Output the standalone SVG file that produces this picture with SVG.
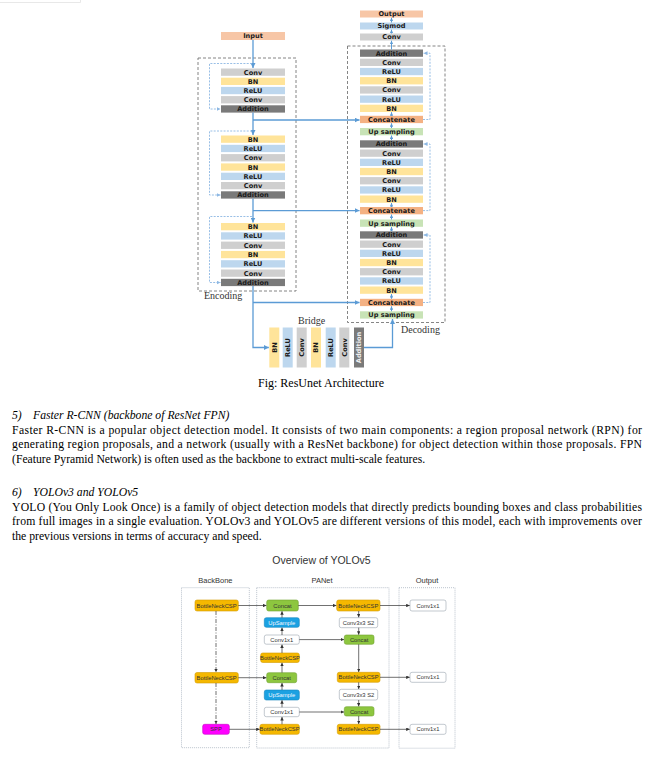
<svg xmlns="http://www.w3.org/2000/svg" width="657" height="760" viewBox="0 0 657 760">
<style>
.b{stroke:none}
.conv{fill:#cfcfcf}
.bn{fill:#ffe49a}
.relu{fill:#bdd7ee}
.add{fill:#7a7a7a}
.cat{fill:#f4b183}
.inp{fill:#f7c6a6}
.up{fill:#c8e3b6}
.t{font-family:"DejaVu Sans",Verdana,sans-serif;font-weight:bold;font-size:6.6px;fill:#1a1a1a;text-anchor:middle}
.lbl{font-family:"Liberation Serif","Times New Roman",serif;font-size:10px;fill:#333}
.main{fill:none;stroke:#5b9bd5;stroke-width:1.3}
.small{fill:none;stroke:#5b9bd5;stroke-width:1}
.loop{fill:none;stroke:#8db8e3;stroke-width:0.9;stroke-dasharray:2,1.3}
.gbox{fill:none;stroke:#777;stroke-width:0.9;stroke-dasharray:3,2}
.body{font-family:"Liberation Serif","Times New Roman",serif;font-size:11.7px;fill:#000}
.cap{font-family:"Liberation Serif","Times New Roman",serif;font-size:12px;fill:#000}
.it{font-style:italic}
.y{font-family:"Liberation Sans",Arial,sans-serif;font-size:5.8px;fill:#333;text-anchor:middle}
.ybox{fill:none;stroke:#aab4c0;stroke-width:0.8;stroke-dasharray:1,1}
.gold{fill:#f5b800;stroke:#d39c00;stroke-width:0.6}
.grn{fill:#8dc63f;stroke:#6ea12e;stroke-width:0.6}
.cyan{fill:#1ba1e2;stroke:#1585bd;stroke-width:0.6}
.wht{fill:#fff;stroke:#9aa4ae;stroke-width:0.6}
.mag{fill:#ff00ff;stroke:#c400c4;stroke-width:0.6}
.yl{fill:none;stroke:#333;stroke-width:0.7}
.yh{font-family:"Liberation Sans",Arial,sans-serif;font-size:7.5px;fill:#333;text-anchor:middle}
</style>
<defs>
<marker id="ab" markerUnits="userSpaceOnUse" markerWidth="5" markerHeight="5" refX="5" refY="2.5" orient="auto"><path d="M0,0 L5,2.5 L0,5 z" fill="#5b9bd5"/></marker>
<marker id="as" markerUnits="userSpaceOnUse" markerWidth="3.5" markerHeight="3.5" refX="3.5" refY="1.75" orient="auto"><path d="M0,0 L3.5,1.75 L0,3.5 z" fill="#5b9bd5"/></marker>
<marker id="al" markerUnits="userSpaceOnUse" markerWidth="4" markerHeight="4" refX="4" refY="2" orient="auto"><path d="M0,0 L4,2 L0,4 z" fill="#8db8e3"/></marker>
<marker id="ak" markerUnits="userSpaceOnUse" markerWidth="3.5" markerHeight="3.5" refX="3.5" refY="1.75" orient="auto"><path d="M0,0 L3.5,1.75 L0,3.5 z" fill="#333"/></marker>
</defs>
<rect x="0" y="0" width="657" height="760" fill="#fff"/>
<path d="M0,2.5 H80.5 V0" fill="none" stroke="#e2e2e2" stroke-width="0.8"/>

<g id="encoding-frame">
<rect class="gbox" x="198" y="58" width="98" height="233"/>
<text class="lbl" x="204" y="298.5">Encoding</text>
</g>
<g id="decoding-frame">
<rect class="gbox" x="347.5" y="46" width="97.5" height="276.5"/>
<text class="lbl" x="401" y="332.5">Decoding</text>
</g>

<g id="input"><rect class="inp" x="221" y="32" width="64" height="8"/><text class="t" x="253" y="38.4">Input</text></g>

<g id="enc-block1">
<rect class="conv" x="221" y="68.5" width="64" height="7.3"/><text class="t" x="253" y="74.6">Conv</text>
<rect class="bn" x="221" y="77.7" width="64" height="7.3"/><text class="t" x="253" y="83.8">BN</text>
<rect class="relu" x="221" y="86.9" width="64" height="7.3"/><text class="t" x="253" y="93">ReLU</text>
<rect class="conv" x="221" y="96.1" width="64" height="7.3"/><text class="t" x="253" y="102.2">Conv</text>
<rect class="add" x="221" y="105.3" width="64" height="7.3"/><text class="t" x="253" y="111.4">Addition</text>
</g>
<g id="enc-block2">
<rect class="bn" x="221" y="135.5" width="64" height="7.3"/><text class="t" x="253" y="141.6">BN</text>
<rect class="relu" x="221" y="144.8" width="64" height="7.3"/><text class="t" x="253" y="150.9">ReLU</text>
<rect class="conv" x="221" y="154.1" width="64" height="7.3"/><text class="t" x="253" y="160.2">Conv</text>
<rect class="bn" x="221" y="163.4" width="64" height="7.3"/><text class="t" x="253" y="169.5">BN</text>
<rect class="relu" x="221" y="172.7" width="64" height="7.3"/><text class="t" x="253" y="178.8">ReLU</text>
<rect class="conv" x="221" y="182" width="64" height="7.3"/><text class="t" x="253" y="188.1">Conv</text>
<rect class="add" x="221" y="191.3" width="64" height="7.3"/><text class="t" x="253" y="197.4">Addition</text>
</g>
<g id="enc-block3">
<rect class="bn" x="221" y="223" width="64" height="7.3"/><text class="t" x="253" y="229.1">BN</text>
<rect class="relu" x="221" y="232.3" width="64" height="7.3"/><text class="t" x="253" y="238.4">ReLU</text>
<rect class="conv" x="221" y="241.6" width="64" height="7.3"/><text class="t" x="253" y="247.7">Conv</text>
<rect class="bn" x="221" y="250.9" width="64" height="7.3"/><text class="t" x="253" y="257">BN</text>
<rect class="relu" x="221" y="260.2" width="64" height="7.3"/><text class="t" x="253" y="266.3">ReLU</text>
<rect class="conv" x="221" y="269.5" width="64" height="7.3"/><text class="t" x="253" y="275.6">Conv</text>
<rect class="add" x="221" y="278.8" width="64" height="7.3"/><text class="t" x="253" y="284.9">Addition</text>
</g>

<g id="bridge">
<text class="lbl" x="298" y="324">Bridge</text>
<rect class="bn" x="269.3" y="327.5" width="10" height="40"/><text class="t" transform="translate(276.7,347.5) rotate(-90)">BN</text>
<rect class="relu" x="282.7" y="327.5" width="10" height="40"/><text class="t" transform="translate(290.1,347.5) rotate(-90)">ReLU</text>
<rect class="conv" x="296.7" y="327.5" width="10" height="40"/><text class="t" transform="translate(304.1,347.5) rotate(-90)">Conv</text>
<rect class="bn" x="311" y="327.5" width="10" height="40"/><text class="t" transform="translate(318.4,347.5) rotate(-90)">BN</text>
<rect class="relu" x="325.7" y="327.5" width="10" height="40"/><text class="t" transform="translate(333.1,347.5) rotate(-90)">ReLU</text>
<rect class="conv" x="339.3" y="327.5" width="10" height="40"/><text class="t" transform="translate(346.7,347.5) rotate(-90)">Conv</text>
<rect class="add" x="354" y="327.5" width="10" height="40"/><text class="t" transform="translate(361.4,347.5) rotate(-90)" style="fill:#eee">Addition</text>
</g>

<g id="output-head">
<rect class="inp" x="360" y="10.5" width="63" height="7"/><text class="t" x="391.5" y="16.3">Output</text>
<rect class="relu" x="360" y="22.5" width="63" height="7"/><text class="t" x="391.5" y="28.3">Sigmod</text>
<rect class="conv" x="360" y="33.5" width="63" height="7"/><text class="t" x="391.5" y="39.3">Conv</text>
</g>
<g id="dec-block1">
<rect class="add" x="360" y="49.5" width="63" height="7.3"/><text class="t" x="391.5" y="55.6">Addition</text>
<rect class="conv" x="360" y="58.7" width="63" height="7.3"/><text class="t" x="391.5" y="64.8">Conv</text>
<rect class="relu" x="360" y="67.9" width="63" height="7.3"/><text class="t" x="391.5" y="74">ReLU</text>
<rect class="bn" x="360" y="77.1" width="63" height="7.3"/><text class="t" x="391.5" y="83.2">BN</text>
<rect class="conv" x="360" y="86.3" width="63" height="7.3"/><text class="t" x="391.5" y="92.4">Conv</text>
<rect class="relu" x="360" y="95.5" width="63" height="7.3"/><text class="t" x="391.5" y="101.6">ReLU</text>
<rect class="bn" x="360" y="104.7" width="63" height="7.3"/><text class="t" x="391.5" y="110.8">BN</text>
<rect class="cat" x="360" y="115.8" width="63" height="7.3"/><text class="t" x="391.5" y="121.9">Concatenate</text>
<rect class="up" x="360" y="128" width="63" height="7.3"/><text class="t" x="391.5" y="134.1">Up sampling</text>
</g>
<g id="dec-block2">
<rect class="add" x="360" y="140.3" width="63" height="7.3"/><text class="t" x="391.5" y="146.4">Addition</text>
<rect class="conv" x="360" y="149.5" width="63" height="7.3"/><text class="t" x="391.5" y="155.6">Conv</text>
<rect class="relu" x="360" y="158.7" width="63" height="7.3"/><text class="t" x="391.5" y="164.8">ReLU</text>
<rect class="bn" x="360" y="167.9" width="63" height="7.3"/><text class="t" x="391.5" y="174">BN</text>
<rect class="conv" x="360" y="177.1" width="63" height="7.3"/><text class="t" x="391.5" y="183.2">Conv</text>
<rect class="relu" x="360" y="186.3" width="63" height="7.3"/><text class="t" x="391.5" y="192.4">ReLU</text>
<rect class="bn" x="360" y="195.5" width="63" height="7.3"/><text class="t" x="391.5" y="201.6">BN</text>
<rect class="cat" x="360" y="207" width="63" height="7.3"/><text class="t" x="391.5" y="213.1">Concatenate</text>
<rect class="up" x="360" y="219.5" width="63" height="7.3"/><text class="t" x="391.5" y="225.6">Up sampling</text>
</g>
<g id="dec-block3">
<rect class="add" x="360" y="231.3" width="63" height="7.3"/><text class="t" x="391.5" y="237.4">Addition</text>
<rect class="conv" x="360" y="240.5" width="63" height="7.3"/><text class="t" x="391.5" y="246.6">Conv</text>
<rect class="relu" x="360" y="249.7" width="63" height="7.3"/><text class="t" x="391.5" y="255.8">ReLU</text>
<rect class="bn" x="360" y="258.9" width="63" height="7.3"/><text class="t" x="391.5" y="265">BN</text>
<rect class="conv" x="360" y="268.1" width="63" height="7.3"/><text class="t" x="391.5" y="274.2">Conv</text>
<rect class="relu" x="360" y="277.3" width="63" height="7.3"/><text class="t" x="391.5" y="283.4">ReLU</text>
<rect class="bn" x="360" y="286.5" width="63" height="7.3"/><text class="t" x="391.5" y="292.6">BN</text>
<rect class="cat" x="360" y="298.8" width="63" height="7.3"/><text class="t" x="391.5" y="304.9">Concatenate</text>
<rect class="up" x="360" y="311.3" width="63" height="7.3"/><text class="t" x="391.5" y="317.4">Up sampling</text>
</g>

<g id="resunet-connectors">
<path class="main" d="M253,40 V68" marker-end="url(#ab)"/>
<path class="main" d="M253,112.6 V135" marker-end="url(#ab)"/>
<path class="main" d="M253,120 H359.5" marker-end="url(#ab)"/>
<path class="main" d="M253,198.6 V222.5" marker-end="url(#ab)"/>
<path class="main" d="M253,210.6 H359.5" marker-end="url(#ab)"/>
<path class="main" d="M253,286.1 V347.5 H268.8" marker-end="url(#ab)"/>
<path class="main" d="M253,302.5 H359.5" marker-end="url(#ab)"/>
<path class="main" d="M364,347.5 H392.5 V319" marker-end="url(#ab)"/>
<path class="loop" d="M252,63.5 H209.5 V109 H220.5" marker-end="url(#al)"/>
<path class="loop" d="M252,131 H209.5 V195 H220.5" marker-end="url(#al)"/>
<path class="loop" d="M252,216.5 H209.5 V282.5 H220.5" marker-end="url(#al)"/>
<path class="loop" d="M423,119.5 H430 V53.2 H423.5" marker-end="url(#al)"/>
<path class="loop" d="M423,210.6 H430 V144 H423.5" marker-end="url(#al)"/>
<path class="loop" d="M423,302.5 H430 V235 H423.5" marker-end="url(#al)"/>
<path class="small" d="M391.5,49.5 V40.7" marker-end="url(#as)"/>
<path class="small" d="M391.5,33.5 V29.7" marker-end="url(#as)"/>
<path class="small" d="M391.5,22.5 V17.7" marker-end="url(#as)"/>
<path class="small" d="M391.5,115.8 V112.2" marker-end="url(#as)"/>
<path class="small" d="M391.5,128 V123.3" marker-end="url(#as)"/>
<path class="small" d="M391.5,140.3 V135.5" marker-end="url(#as)"/>
<path class="small" d="M391.5,207 V203" marker-end="url(#as)"/>
<path class="small" d="M391.5,219.5 V214.5" marker-end="url(#as)"/>
<path class="small" d="M391.5,231.3 V227" marker-end="url(#as)"/>
<path class="small" d="M391.5,298.8 V294" marker-end="url(#as)"/>
<path class="small" d="M391.5,311.3 V306.3" marker-end="url(#as)"/>
</g>

<text class="cap" x="258" y="387">Fig: ResUnet Architecture</text>

<text class="body it" x="12" y="418.5">5)</text>
<text class="body it" x="33" y="418.5">Faster R-CNN (backbone of ResNet FPN)</text>
<text class="body" x="12" y="433.5" textLength="630" lengthAdjust="spacing">Faster R-CNN is a popular object detection model. It consists of two main components: a region proposal network (RPN) for</text>
<text class="body" x="12" y="448" textLength="630" lengthAdjust="spacing">generating region proposals, and a network (usually with a ResNet backbone) for object detection within those proposals. FPN</text>
<text class="body" x="12" y="462.5">(Feature Pyramid Network) is often used as the backbone to extract multi-scale features.</text>
<text class="body it" x="12" y="495.5">6)</text>
<text class="body it" x="33" y="495.5">YOLOv3 and YOLOv5</text>
<text class="body" x="12" y="510.5" textLength="630" lengthAdjust="spacing">YOLO (You Only Look Once) is a family of object detection models that directly predicts bounding boxes and class probabilities</text>
<text class="body" x="12" y="525" textLength="630" lengthAdjust="spacing">from full images in a single evaluation. YOLOv3 and YOLOv5 are different versions of this model, each with improvements over</text>
<text class="body" x="12" y="539.5">the previous versions in terms of accuracy and speed.</text>

<text x="321.5" y="563.5" font-family="'Liberation Sans',Arial,sans-serif" font-size="10.5" fill="#333" text-anchor="middle">Overview of YOLOv5</text>
<g id="backbone-frame"><rect class="ybox" x="181.5" y="587.7" width="67.8" height="160"/><text class="yh" x="215.4" y="582.5">BackBone</text></g>
<g id="panet-frame"><rect class="ybox" x="256.7" y="587.7" width="132.3" height="160.3"/><text class="yh" x="322" y="582.5">PANet</text></g>
<g id="output-frame"><rect class="ybox" x="399" y="587.7" width="56" height="160.5"/><text class="yh" x="427" y="582.5">Output</text></g>

<g id="bb-csp1"><rect class="gold" x="195" y="600" width="43.3" height="11" rx="2"/><text class="y" x="216.6" y="607.5">BottleNeckCSP</text></g>
<g id="bb-csp2"><rect class="gold" x="195" y="672.5" width="43.3" height="10.5" rx="2"/><text class="y" x="216.6" y="679.8">BottleNeckCSP</text></g>
<g id="bb-spp"><rect class="mag" x="202.7" y="724.3" width="26.6" height="10" rx="2"/><text class="y" x="216" y="731.4">SPP</text></g>

<g id="pl-concat1"><rect class="grn" x="266.7" y="600" width="31.6" height="11" rx="2"/><text class="y" x="282.5" y="607.5">Concat</text></g>
<g id="pl-up1"><rect class="cyan" x="264.3" y="617.7" width="35" height="9.6" rx="2"/><text class="y" x="281.8" y="624.6" style="fill:#f4f8ff">UpSample</text></g>
<g id="pl-conv1"><rect class="wht" x="264.3" y="635" width="35" height="9.2" rx="2"/><text class="y" x="281.8" y="641.7">Conv1x1</text></g>
<g id="pl-csp1"><rect class="gold" x="260.7" y="653" width="38.6" height="9.5" rx="2"/><text class="y" x="280" y="659.8">BottleNeckCSP</text></g>
<g id="pl-concat2"><rect class="grn" x="266.7" y="672.7" width="30" height="10" rx="2"/><text class="y" x="281.7" y="679.8">Concat</text></g>
<g id="pl-up2"><rect class="cyan" x="264.3" y="690" width="35" height="10" rx="2"/><text class="y" x="281.8" y="697.1" style="fill:#f4f8ff">UpSample</text></g>
<g id="pl-conv2"><rect class="wht" x="264.3" y="707.3" width="35" height="9.4" rx="2"/><text class="y" x="281.8" y="714.1">Conv1x1</text></g>
<g id="pl-csp2"><rect class="gold" x="260" y="724.3" width="39.3" height="10" rx="2"/><text class="y" x="279.6" y="731.4">BottleNeckCSP</text></g>

<g id="pr-csp1"><rect class="gold" x="336.7" y="600" width="43.3" height="11" rx="2"/><text class="y" x="358.3" y="607.5">BottleNeckCSP</text></g>
<g id="pr-conv1"><rect class="wht" x="339.3" y="617.7" width="38.4" height="10" rx="2"/><text class="y" x="358.5" y="624.8">Conv3x3 S2</text></g>
<g id="pr-concat1"><rect class="grn" x="344.3" y="635" width="29.7" height="9.3" rx="2"/><text class="y" x="359.1" y="641.8">Concat</text></g>
<g id="pr-csp2"><rect class="gold" x="337.3" y="672.3" width="42.7" height="10" rx="2"/><text class="y" x="358.6" y="679.4">BottleNeckCSP</text></g>
<g id="pr-conv2"><rect class="wht" x="339.3" y="689.3" width="38.4" height="10.7" rx="2"/><text class="y" x="358.5" y="696.7">Conv3x3 S2</text></g>
<g id="pr-concat2"><rect class="grn" x="344.3" y="706.7" width="29.7" height="9.3" rx="2"/><text class="y" x="359.1" y="713.5">Concat</text></g>
<g id="pr-csp3"><rect class="gold" x="337.3" y="724.3" width="42.7" height="10" rx="2"/><text class="y" x="358.6" y="731.4">BottleNeckCSP</text></g>

<g id="out1"><rect class="wht" x="410" y="600" width="36" height="11" rx="2"/><text class="y" x="428" y="607.5">Conv1x1</text></g>
<g id="out2"><rect class="wht" x="410" y="672.3" width="36" height="10" rx="2"/><text class="y" x="428" y="679.4">Conv1x1</text></g>
<g id="out3"><rect class="wht" x="410" y="724.3" width="36" height="10" rx="2"/><text class="y" x="428" y="731.4">Conv1x1</text></g>

<g id="yolo-connectors">
<path class="yl" d="M238.3,605.5 H266.4" marker-end="url(#ak)"/>
<path class="yl" d="M298.3,605.5 H336.4" marker-end="url(#ak)"/>
<path class="yl" d="M380,605.5 H409.7" marker-end="url(#ak)"/>
<path class="yl" d="M282,617.7 V611.3" marker-end="url(#ak)"/>
<path class="yl" d="M282,635 V627.6" marker-end="url(#ak)"/>
<path class="yl" d="M282,653 V644.5" marker-end="url(#ak)"/>
<path class="yl" d="M282,672.7 V662.8" marker-end="url(#ak)"/>
<path class="yl" d="M282,690 V683" marker-end="url(#ak)"/>
<path class="yl" d="M282,707.3 V700.3" marker-end="url(#ak)"/>
<path class="yl" d="M282,724.3 V717" marker-end="url(#ak)"/>
<path class="yl" d="M299.3,639.6 H344" marker-end="url(#ak)"/>
<path class="yl" d="M299.3,712 H344" marker-end="url(#ak)"/>
<path class="yl" d="M358.7,611 V617.4" marker-end="url(#ak)"/>
<path class="yl" d="M358.7,627.7 V634.7" marker-end="url(#ak)"/>
<path class="yl" d="M358.7,644.3 V672" marker-end="url(#ak)"/>
<path class="yl" d="M358.7,682.3 V689" marker-end="url(#ak)"/>
<path class="yl" d="M358.7,700 V706.4" marker-end="url(#ak)"/>
<path class="yl" d="M358.7,716 V724" marker-end="url(#ak)"/>
<path class="yl" d="M380,677.3 H409.7" marker-end="url(#ak)"/>
<path class="yl" d="M380,729.3 H409.7" marker-end="url(#ak)"/>
<path class="yl" d="M238.3,677.7 H266.4" marker-end="url(#ak)"/>
<path class="yl" d="M229.3,729.3 H259.7" marker-end="url(#ak)"/>
<path class="yl" d="M216,611 V672.2" stroke-dasharray="4,1.5,1,1.5" marker-end="url(#ak)"/>
<path class="yl" d="M216,683 V724" stroke-dasharray="4,1.5,1,1.5" marker-end="url(#ak)"/>
</g>
</svg>
